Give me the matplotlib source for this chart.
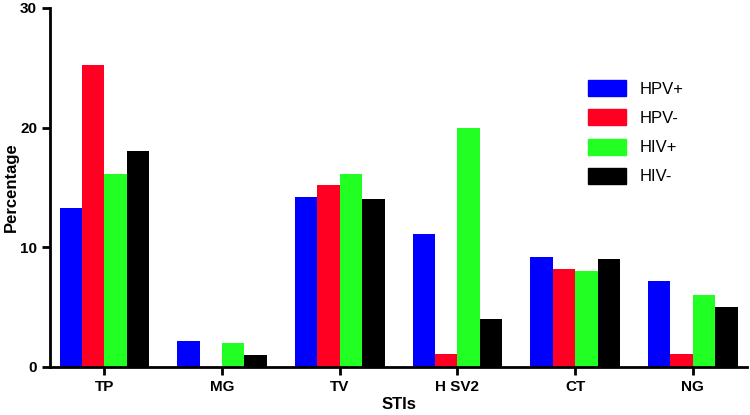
import numpy as np
import matplotlib.pyplot as plt
from matplotlib.patches import Patch

plt.rcParams['font.family'] = ['Liberation Sans', 'DejaVu Sans']

# data
stis = ['TP', 'MG', 'TV', 'H SV2', 'CT', 'NG']
hpv_pos = [13.3, 2.2, 14.2, 11.1, 9.2, 7.2]
hpv_neg = [25.2, 0.0, 15.2, 1.1, 8.2, 1.1]
hiv_pos = [16.1, 2.0, 16.1, 20.0, 8.0, 6.0]
hiv_neg = [18.0, 1.0, 14.0, 4.0, 9.0, 5.0]

series = [('HPV+', hpv_pos, '#0000FF'),
          ('HPV-', hpv_neg, '#FF0022'),
          ('HIV+', hiv_pos, '#22FF22'),
          ('HIV-', hiv_neg, '#000000')]

fig = plt.figure(figsize=(7.5, 4.15), dpi=100)
ax = fig.add_axes([0.067, 0.116, 0.929, 0.865])

x = np.arange(len(stis))
w = 0.19
for i, (lab, vals, col) in enumerate(series):
    ax.bar(x + (i - 1.5) * w, vals, width=w, color=col, label=lab)

ax.set_xlim(-0.46, 5.46)
ax.set_ylim(0, 30)
ax.set_yticks([0, 10, 20, 30])
ax.set_xticks(x)
ax.set_xticklabels(stis, fontweight='bold', fontsize=11)
for t in ax.get_yticklabels():
    t.set_fontweight('bold')
    t.set_fontsize(11)
ax.set_xlabel('STIs', fontweight='bold', fontsize=12, labelpad=2)
ax.set_ylabel('Percentage', fontweight='bold', fontsize=12)
ax.yaxis.set_label_coords(-0.045, 0.5)

for s in ['top', 'right']:
    ax.spines[s].set_visible(False)
for s in ['left', 'bottom']:
    ax.spines[s].set_linewidth(2)
ax.tick_params(width=2, length=6, direction='out')

handles = [Patch(color=c, label=l) for l, v, c in series]
ax.legend(handles=handles, frameon=False, fontsize=12,
          loc='upper left', bbox_to_anchor=(0.75, 0.84),
          handlelength=2.3, handleheight=1.1, labelspacing=0.75)

fig.savefig('out.png', dpi=100)
